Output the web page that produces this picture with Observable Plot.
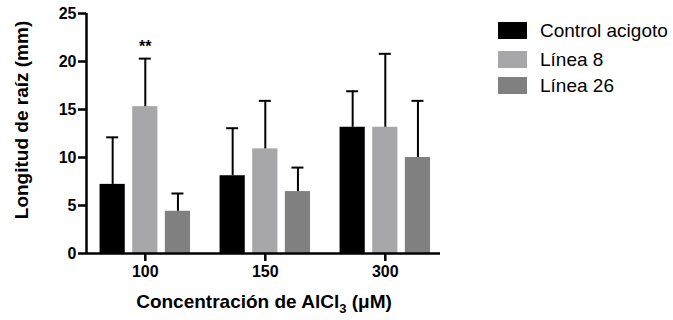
<!DOCTYPE html>
<html>
<head>
<meta charset="utf-8">
<script src="https://cdn.jsdelivr.net/npm/d3@7"></script>
<script src="https://cdn.jsdelivr.net/npm/@observablehq/plot@0.6"></script>
<style>
  html, body { margin: 0; padding: 0; background: #fff; }
  #wrap { position: relative; width: 673px; height: 320px; font-family: "Liberation Sans", Arial, Helvetica, sans-serif; }
  #xtitle { position: absolute; top: 292px; left: 264px; transform: translateX(-50%); white-space: nowrap;
            font-size: 19px; font-weight: bold; line-height: 19px; color: #000; }
  #xtitle sub { font-size: 13px; line-height: 0; vertical-align: -5px; }
  .leg { position: absolute; left: 498px; display: flex; align-items: center; font-size: 19px; color: #000; white-space: nowrap; }
  .leg span.sw { display: inline-block; width: 29px; height: 17px; margin-right: 13px; }
</style>
</head>
<body>
<div id="wrap"></div>
<script>
const concentrations = ["100", "150", "300"];
const series = ["Control acigoto", "Línea 8", "Línea 26"];
const colors = ["#000000", "#a7a7a9", "#808080"];
const control = [7.2, 8.1, 13.15];
const controlErr = [12.1, 13.05, 16.9];
const linea8 = [15.3, 10.9, 13.15];
const linea8Err = [20.3, 15.9, 20.8];
const linea26 = [4.4, 6.45, 10.0];
const linea26Err = [6.25, 8.95, 15.9];
const yTicks = [0, 5, 10, 15, 20, 25];
const significance = [{group: 0, series: 1, label: "**"}];

const means = [control, linea8, linea26];
const errs = [controlErr, linea8Err, linea26Err];
const offset = 0.272, barW = 0.21, capW = 0.1;
const rows = [];
concentrations.forEach((c, i) => {
  series.forEach((s, j) => {
    const cx = i + (j - 1) * offset;
    rows.push({conc: c, series: s, cx, x1: cx - barW / 2, x2: cx + barW / 2,
               v: means[j][i], e: errs[j][i], c1: cx - capW / 2, c2: cx + capW / 2});
  });
});
const stars = significance.map(d => ({cx: d.group + (d.series - 1) * offset, y: errs[d.series][d.group], label: d.label}));
const xDomain = [-0.49, 2.46];

const chart = Plot.plot({
  width: 673,
  height: 320,
  marginLeft: 86,
  marginRight: 233,
  marginTop: 13,
  marginBottom: 67,
  style: {fontFamily: '"Liberation Sans", Arial, Helvetica, sans-serif', background: "#fff", color: "#000"},
  x: {type: "linear", domain: xDomain},
  y: {domain: [0, 25]},
  color: {domain: series, range: colors},
  marks: [
    Plot.rectY(rows, {x1: "x1", x2: "x2", y1: 0, y2: "v", fill: "series"}),
    Plot.ruleX(rows, {x: "cx", y1: "v", y2: "e", stroke: "#000", strokeWidth: 2}),
    Plot.ruleY(rows, {y: "e", x1: "c1", x2: "c2", stroke: "#000", strokeWidth: 2}),
    Plot.text(stars, {x: "cx", y: "y", text: "label", dy: -12, fontSize: 16, fontWeight: "bold"}),
    Plot.ruleY([0], {stroke: "#000", strokeWidth: 2.5}),
    Plot.ruleX([xDomain[0]], {stroke: "#000", strokeWidth: 2.5}),
    Plot.axisY({ticks: yTicks, tickSize: 8, tickPadding: 2, fontSize: 16, fontWeight: "bold", strokeWidth: 2.5, label: null}),
    Plot.axisX({ticks: [0, 1, 2], tickFormat: i => concentrations[i], tickSize: 8, tickPadding: 4, fontSize: 16, fontWeight: "bold", strokeWidth: 2.5, label: null}),
    Plot.text(["Longitud de raíz (mm)"], {frameAnchor: "left", textAnchor: "middle", rotate: -90, dx: -65, dy: -13.5, fontSize: 19, fontWeight: "bold"})
  ]
});
const wrap = document.getElementById("wrap");
wrap.appendChild(chart);

const xt = document.createElement("div");
xt.id = "xtitle";
xt.innerHTML = "Concentración de AlCl<sub>3</sub> (μM)";
wrap.appendChild(xt);

const legTops = [21, 50, 76];
series.forEach((s, j) => {
  const d = document.createElement("div");
  d.className = "leg";
  d.style.top = legTops[j] + "px";
  d.style.height = "19px";
  const sw = document.createElement("span");
  sw.className = "sw";
  sw.style.background = colors[j];
  d.appendChild(sw);
  d.appendChild(document.createTextNode(s));
  wrap.appendChild(d);
});
</script>
</body>
</html>
